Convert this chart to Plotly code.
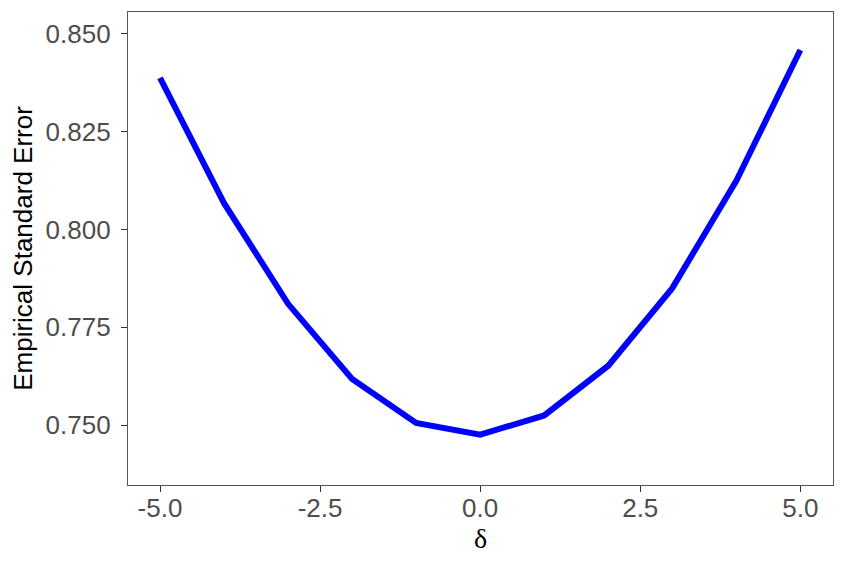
import plotly.graph_objects as go

# data
delta = [-5, -4, -3, -2, -1, 0, 1, 2, 3, 4, 5]
emp_se = [0.8387, 0.8067, 0.7810, 0.7618, 0.7506, 0.7476,
          0.7525, 0.7652, 0.7850, 0.8124, 0.8458]

y_ticks = [0.750, 0.775, 0.800, 0.825, 0.850]
y_tick_text = ["0.750", "0.775", "0.800", "0.825", "0.850"]
x_ticks = [-5.0, -2.5, 0.0, 2.5, 5.0]
x_tick_text = ["-5.0", "-2.5", "0.0", "2.5", "5.0"]

fig = go.Figure()

fig.add_trace(
    go.Scatter(
        x=delta,
        y=emp_se,
        mode="lines",
        line=dict(color="#0000FF", width=6),
        showlegend=False,
    )
)

axis_common = dict(
    showgrid=False,
    zeroline=False,
    showline=True,
    mirror=True,
    linecolor="#555555",
    linewidth=1.2,
    ticks="outside",
    ticklen=6,
    tickwidth=1.2,
    tickcolor="#333333",
    tickfont=dict(family="Liberation Sans, Arial", size=26, color="#4D4D4D"),
)

# page body has an 8px margin, so the figure is sized/offset to fit the window
fig.update_layout(
    width=829,
    height=547,
    paper_bgcolor="white",
    plot_bgcolor="white",
    margin=dict(l=120, r=4, t=4, b=70),
    xaxis=dict(
        range=[-5.5, 5.51],
        tickvals=x_ticks,
        ticktext=x_tick_text,
        ticklabelstandoff=-6,
        title=dict(
            text="δ",
            font=dict(family="Liberation Serif, Times New Roman", size=28, color="black"),
            standoff=0,
        ),
        **axis_common,
    ),
    yaxis=dict(
        range=[0.73475, 0.8555],
        tickvals=y_ticks,
        ticktext=y_tick_text,
        ticklabelstandoff=5,
        title=dict(
            text="Empirical Standard Error",
            font=dict(family="Liberation Sans, Arial", size=26, color="black"),
            standoff=10,
        ),
        **axis_common,
    ),
)

fig.write_html("out.html")
